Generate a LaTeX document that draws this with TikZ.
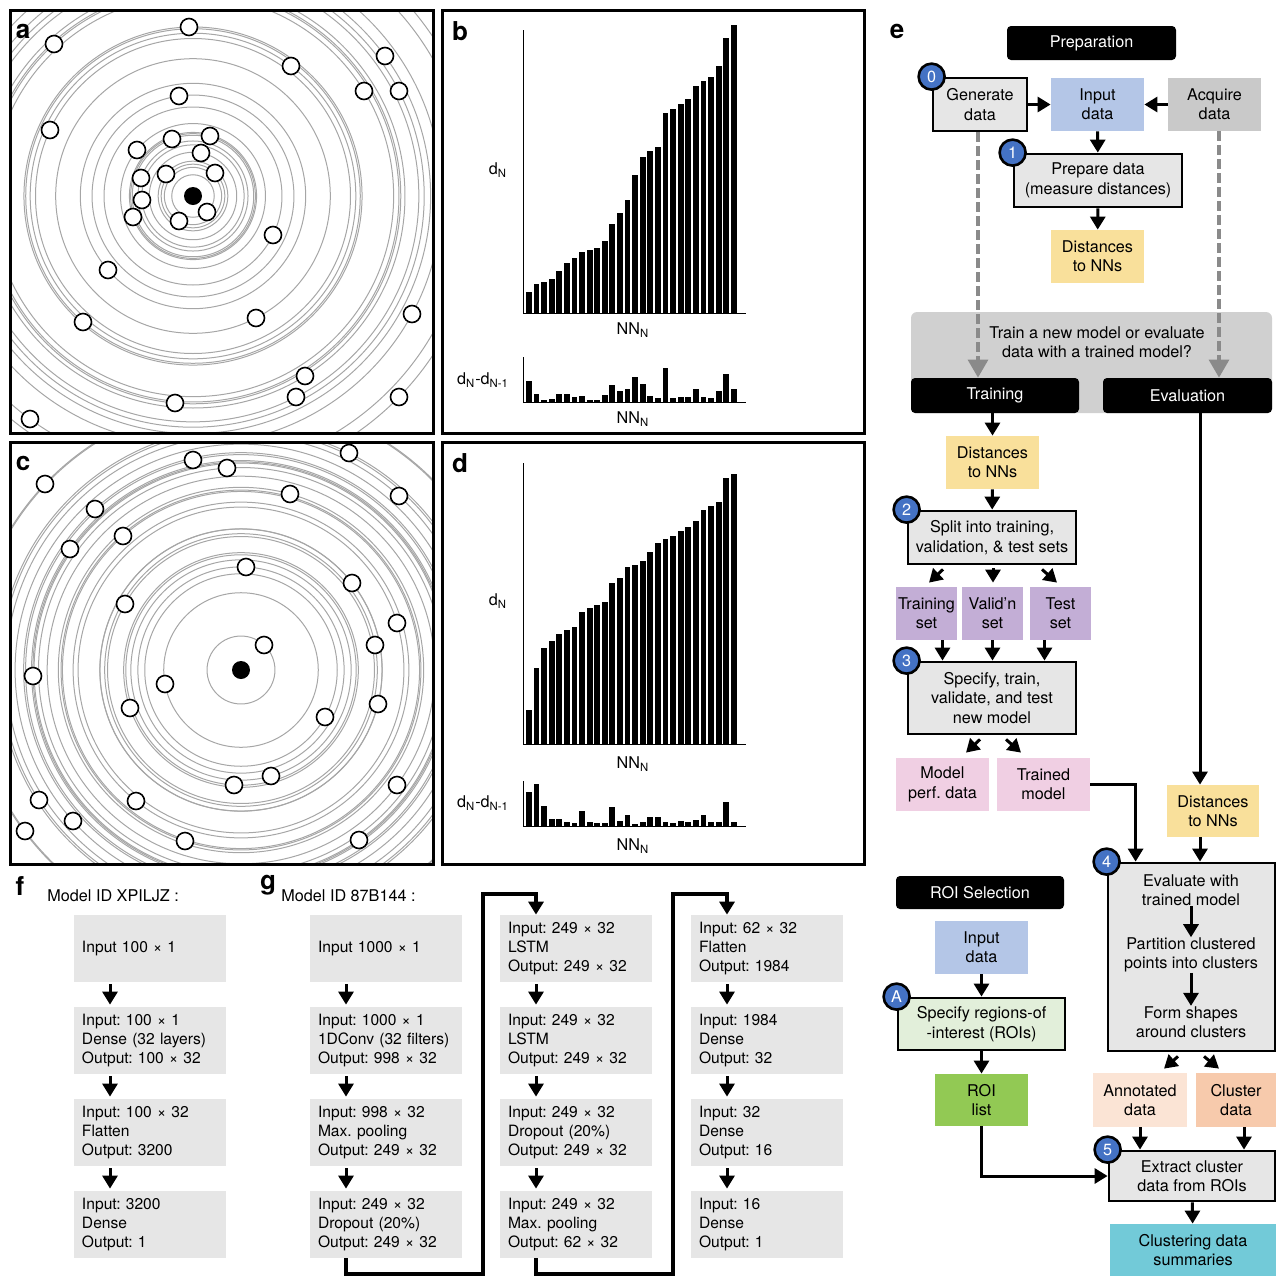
\documentclass[tikz,border=0pt]{standalone}
\usepackage{fontspec}
\setmainfont{TeX Gyre Heros}
\usetikzlibrary{arrows.meta, calc}

\definecolor{stepgray}{HTML}{E6E6E6}
\definecolor{inblue}{HTML}{B4C6E7}
\definecolor{acqgray}{HTML}{C9C9C9}
\definecolor{nnyellow}{HTML}{F9E09B}
\definecolor{setpurple}{HTML}{C3AED6}
\definecolor{pinkbox}{HTML}{F0CFE3}
\definecolor{annpeach}{HTML}{FBE4D5}
\definecolor{clupeach}{HTML}{F7CAAC}
\definecolor{roigreenlt}{HTML}{E2EFDA}
\definecolor{roigreen}{HTML}{92C954}
\definecolor{sumcyan}{HTML}{72CAD8}
\definecolor{badgeblue}{HTML}{4472C4}
\definecolor{regiongray}{HTML}{D0D0D0}
\definecolor{arrgray}{HTML}{8A8A8A}
\definecolor{ringgray}{HTML}{A6A6A6}

\begin{document}
\begin{tikzpicture}[x=0.5pt, y=-0.5pt,
      font=\fontsize{8.1}{9.7}\selectfont\frenchspacing,
      frame/.style={line width=1.5pt},
      ring/.style={draw=ringgray, line width=0.5pt},
      dotpt/.style={draw, fill=white, line width=0.8pt},
      axis/.style={line width=0.5pt},
      plabel/.style={font=\fontsize{13}{13}\selectfont\bfseries},
      sz/.style 2 args={minimum width=#1*0.5pt, minimum height=#2*0.5pt},
      box/.style={inner sep=0pt, align=center},
      stepbox/.style={box, draw, line width=1.4pt, fill=stepgray},
      hdr/.style={box, fill=black, text=white, rounded corners=2pt},
      badge/.style={circle, draw, line width=1.3pt, fill=badgeblue, text=white,
                    inner sep=0pt, minimum size=13pt},
      arr/.style={line width=1.5pt, -{Triangle[width=7.5pt,length=6.5pt]}},
      dasharr/.style={draw=arrgray, line width=1.6pt, dash pattern=on 5pt off 2pt,
                      -{Triangle[width=10pt,length=9pt]}},
      layer/.style={fill=stepgray, sz={152}{67}, text width=68pt,
                    inner xsep=4pt, inner ysep=0pt, align=left,
                    font=\fontsize{7.8}{9.6}\selectfont\frenchspacing\hyphenpenalty10000\relax},
      link/.style={line width=2pt, -{Triangle[width=7.5pt,length=6.5pt]}}]

    \useasboundingbox (0,0) rectangle (1276,1276);

    \def\ptsa{189/27, 54/44, 291/66, 385/56, 364/91, 399/91, 179/96, 50/130,
              172/139, 210/136, 137/150, 201/153, 166/174, 215/173, 141/178,
              142/200, 133/217, 179/221, 207/212, 273/235, 108/270, 83/322,
              256/318, 412/314, 305/376, 296/397, 175/403, 399/397, 30/419}
    \def\ptsc{193/460, 227/468, 349/453, 45/484, 290/494, 399/496, 95/509,
              123/536, 70/549, 246/567, 352/583, 125/604, 397/623, 375/645,
              264/645, 33/676, 165/684, 130/708, 378/704, 325/717, 271/776,
              234/785, 397/785, 39/800, 136/801, 73/821, 25/831, 185/841, 359/840}
    \def\barsb{21,29,31,34,42,50,55,61,63,65,72,89,100,113,138,156,162,166,
               200,204,209,214,227,232,236,247,275,288}
    \def\barsd{34,76,96,103,110,114,117,132,136,139,142,161,166,177,179,183,
               192,201,205,208,213,217,223,234,238,242,266,270}

    % === (a) random points ===
    \begin{scope}
      \clip (10,10) rectangle (433,433);
      \foreach \px/\py in \ptsa
        \draw[ring] (193,196) circle[radius={veclen(\px-193,\py-196)}];
    \end{scope}
    \foreach \px/\py in \ptsa
      \draw[dotpt] (\px,\py) circle[radius=8.5];
    \fill (193,196) circle[radius=9];
    \draw[frame] (10,10) rectangle (433,433);
    \node[plabel] at (23,31) {a};

    % === (c) clustered points ===
    \begin{scope}
      \clip (10,442) rectangle (433,864);
      \foreach \px/\py in \ptsc
        \draw[ring] (241,670) circle[radius={veclen(\px-241,\py-670)}];
    \end{scope}
    \foreach \px/\py in \ptsc
      \draw[dotpt] (\px,\py) circle[radius=8.5];
    \fill (241,670) circle[radius=9];
    \draw[frame] (10,442) rectangle (433,864);
    \node[plabel] at (23,463) {c};

    % === (b) distances for (a) ===
    \foreach \h [count=\i, remember=\h as \hp (initially 0)] in \barsb {
      \fill (526+7.59*\i-7.59,313) rectangle ++(5.8,-\h);
      \fill (526+7.59*\i-7.59,402) rectangle ++(5.8,\hp-\h);
    }
    \draw[axis] (523,30) -- (523,313) -- (746,313);
    \draw[axis] (523,357) -- (523,402) -- (746,402);
    \node at (498,170) {d\textsubscript{N}};
    \node at (633,330) {NN\textsubscript{N}};
    \node at (483,380) {d\textsubscript{N}-d\textsubscript{N-1}};
    \node at (633,419) {NN\textsubscript{N}};
    \draw[frame] (442,10) rectangle (864,433);
    \node[plabel] at (460,31) {b};

    % === (d) distances for (c) ===
    \foreach \h [count=\i, remember=\h as \hp (initially 0)] in \barsd {
      \fill (526+7.59*\i-7.59,744) rectangle ++(5.8,-\h);
      \fill (526+7.59*\i-7.59,826) rectangle ++(5.8,\hp-\h);
    }
    \draw[axis] (523,463) -- (523,744) -- (746,744);
    \draw[axis] (523,781) -- (523,826) -- (746,826);
    \node at (498,601) {d\textsubscript{N}};
    \node at (633,764) {NN\textsubscript{N}};
    \node at (483,803) {d\textsubscript{N}-d\textsubscript{N-1}};
    \node at (633,846) {NN\textsubscript{N}};
    \draw[frame] (442,442) rectangle (864,864);
    \node[plabel] at (460,463) {d};

    % === (e) workflow ===
    \node[plabel] at (897,31) {e};
    \node[hdr, sz={169}{34}] (prep) at (1091.5,43) {Preparation};
    \node[stepbox, sz={94}{53}] (gen) at (980,104.5) {Generate\\data};
    \node[box, sz={93}{53}, fill=inblue] (inp) at (1097.5,104.5) {Input\\data};
    \node[box, sz={93}{53}, fill=acqgray] (acq) at (1214.5,104.5) {Acquire\\data};
    \node[stepbox, sz={168}{53}] (prepd) at (1098,180.5) {Prepare data\\(measure distances)};
    \node[box, sz={93}{53}, fill=nnyellow] (dist) at (1097.5,256.5) {Distances\\to NNs};
    \node[badge] at (gen.north west) {0};
    \node[badge] at (prepd.north west) {1};

    \fill[regiongray, rounded corners=3pt] (911,312) rectangle (1272,413);
    \node[box] (ask) at (1097,342) {Train a new model or evaluate\\data with a trained model?};
    \node[hdr, sz={168}{35}] (train) at (995,395.5) {Training};
    \node[hdr, sz={169}{35}] (eval) at (1187.5,395.5) {Evaluation};

    \draw[arr] (gen) -- (inp);
    \draw[arr] (acq) -- (inp);
    \draw[arr] (inp) -- (prepd);
    \draw[arr] (prepd) -- (dist);
    \draw[dasharr] ([xshift=-1pt]gen.south) -- ([xshift=-1pt]gen.south |- train.north);
    \draw[dasharr] ([xshift=2.25pt]acq.south) -- ([xshift=2.25pt]acq.south |- eval.north);

    % training branch
    \node[box, sz={93}{53}, fill=nnyellow] (distt) at (992.5,462.5) {Distances\\to NNs};
    \node[stepbox, sz={168}{53}] (split) at (992,537.5) {Split into training,\\validation, \& test sets};
    \node[box, sz={61}{53}, fill=setpurple] (tset) at (926.5,613.5) {Training\\set};
    \node[box, sz={61}{53}, fill=setpurple] (vset) at (992.5,613.5) {Valid’n\\set};
    \node[box, sz={61}{53}, fill=setpurple] (xset) at (1060.5,613.5) {Test\\set};
    \node[stepbox, sz={168}{72}] (spec) at (992,698) {Specify, train,\\validate, and test\\new model};
    \node[box, sz={93}{53}, fill=pinkbox] (perf) at (942.5,784.5) {Model\\perf. data};
    \node[box, sz={93}{53}, fill=pinkbox] (tmod) at (1043.5,784.5) {Trained\\model};
    \node[badge] at (split.north west) {2};
    \node[badge] at (spec.north west) {3};

    \draw[arr] (distt.north |- train.south) -- (distt);
    \draw[arr] (distt) -- (split);
    \draw[arr] ($(split.south)+(-49,4)$) -- ($(tset.north)+(2.5,-4)$);
    \draw[arr] ($(split.south)+(1,3)$) -- ($(vset.north)+(0.5,-4)$);
    \draw[arr] ($(split.south)+(50,4)$) -- ($(xset.north)+(-3.5,-4)$);
    \draw[arr] ([xshift=8pt]tset.south) -- ([xshift=8pt]tset.south |- spec.north);
    \draw[arr] (vset) -- (vset.south |- spec.north);
    \draw[arr] ([xshift=-8pt]xset.south) -- ([xshift=-8pt]xset.south |- spec.north);
    \draw[arr] ($(spec.south)+(-12,4)$) -- ($(perf.north)+(23.5,-5)$);
    \draw[arr] ($(spec.south)+(14,4)$) -- ($(tmod.north)+(-22.5,-5)$);

    % evaluation branch
    \coordinate (evx) at (1200,0);
    \node[box, sz={92}{52}, fill=nnyellow] (diste) at (1213,811) {Distances\\to NNs};
    \node[stepbox, sz={167}{188}] (evalbox) at (1191.5,957) {};
    \node[box] (ev1) at (1191,890) {Evaluate with\\trained model};
    \node[box] (ev2) at (1191,955) {Partition clustered\\points into clusters};
    \node[box] (ev3) at (1191,1022) {Form shapes\\around clusters};
    \node[badge] at (evalbox.north west) {4};
    \node[box, sz={94}{54}, fill=annpeach] (annot) at (1140,1100) {Annotated\\data};
    \node[box, sz={80}{54}, fill=clupeach] (clus) at (1236,1100) {Cluster\\data};
    \node[stepbox, sz={166}{50}] (extr) at (1192,1176) {Extract cluster\\data from ROIs};
    \node[box, sz={166}{52}, fill=sumcyan] (summ) at (1193,1250) {Clustering data\\summaries};
    \node[badge] at (extr.north west) {5};

    \draw[arr] (eval.south -| evx) -- (diste.north -| evx);
    \draw[arr] (diste.south -| evx) -- (evalbox.north -| evx);
    \draw[arr] (tmod.east) -| ($(evalbox.north west)+(29,0)$);
    \draw[arr] (ev1) -- (ev2);
    \draw[arr] (ev2) -- (ev3);
    \draw[arr] ($(evalbox.south)+(-13.5,4)$) -- ($(annot.north)+(24,-4)$);
    \draw[arr] ($(evalbox.south)+(12.5,4)$) -- ($(clus.north)+(-17,-4)$);
    \draw[arr] (annot) -- (annot.south |- extr.north);
    \draw[arr] ([xshift=4pt]clus.south) -- ([xshift=4pt]clus.south |- extr.north);
    \draw[arr] (extr) -- (summ);

    % ROI selection
    \node[hdr, sz={168}{33}] (roih) at (980,892.5) {ROI Selection};
    \node[box, sz={93}{53}, fill=inblue] (roiin) at (981.5,947.5) {Input\\data};
    \node[stepbox, sz={167}{52}, fill=roigreenlt] (roispec) at (981.5,1024) {Specify regions-of\\-interest (ROIs)};
    \node[box, sz={93}{52}, fill=roigreen] (roil) at (981.5,1100) {ROI\\list};
    \node[badge] at (roispec.north west) {A};
    \draw[arr] (roiin) -- (roispec);
    \draw[arr] (roispec) -- (roil);
    \draw[arr] (roil.south) |- (extr.west);

    % === (f) and (g) model layers ===
    \node[plabel] at (20,886) {f};
    \node[anchor=west, inner sep=0pt] at (47,896) {Model ID XPILJZ :};
    \node[plabel] at (268,885) {g};
    \node[anchor=west, inner sep=0pt] at (281,896) {Model ID 87B144 :};

    \node[layer] (f1) at (150,948.5)  {Input 100 × 1};
    \node[layer] (f2) at (150,1040.5) {Input: 100 × 1\\Dense (32 layers)\\Output: 100 × 32};
    \node[layer] (f3) at (150,1132.5) {Input: 100 × 32\\Flatten\\Output: 3200};
    \node[layer] (f4) at (150,1224.5) {Input: 3200\\Dense\\Output: 1};

    \node[layer] (ga1) at (386,948.5)  {Input 1000 × 1};
    \node[layer] (ga2) at (386,1040.5) {Input: 1000 × 1\\1DConv (32 filters)\\Output: 998 × 32};
    \node[layer] (ga3) at (386,1132.5) {Input: 998 × 32\\Max. pooling\\Output: 249 × 32};
    \node[layer] (ga4) at (386,1224.5) {Input: 249 × 32\\Dropout (20\%)\\Output: 249 × 32};

    \node[layer] (gb1) at (576,948.5)  {Input: 249 × 32\\LSTM\\Output: 249 × 32};
    \node[layer] (gb2) at (576,1040.5) {Input: 249 × 32\\LSTM\\Output: 249 × 32};
    \node[layer] (gb3) at (576,1132.5) {Input: 249 × 32\\Dropout (20\%)\\Output: 249 × 32};
    \node[layer] (gb4) at (576,1224.5) {Input: 249 × 32\\Max. pooling\\Output: 62 × 32};

    \node[layer] (gc1) at (767,948.5)  {Input: 62 × 32\\Flatten\\Output: 1984};
    \node[layer] (gc2) at (767,1040.5) {Input: 1984\\Dense\\Output: 32};
    \node[layer] (gc3) at (767,1132.5) {Input: 32\\Dense\\Output: 16};
    \node[layer] (gc4) at (767,1224.5) {Input: 16\\Dense\\Output: 1};

    \foreach \c in {f,ga,gb,gc}
      \foreach \i/\j in {1/2,2/3,3/4}
        \draw[arr, shorten <=1pt, shorten >=1pt] ([xshift=-20pt]\c\i.south) -- ([xshift=-20pt]\c\j.north);

    \coordinate (j1lo) at (483,1274);
    \coordinate (j1hi) at (483,894);
    \coordinate (j2lo) at (673,1274);
    \coordinate (j2hi) at (673,894);
    \draw[link] ([xshift=-20pt]ga4.south) |- (j1lo) -- (j1hi) -| ([xshift=-20pt]gb1.north);
    \draw[link] ([xshift=-20pt]gb4.south) |- (j2lo) -- (j2hi) -| ([xshift=-20pt]gc1.north);

\end{tikzpicture}
\end{document}
